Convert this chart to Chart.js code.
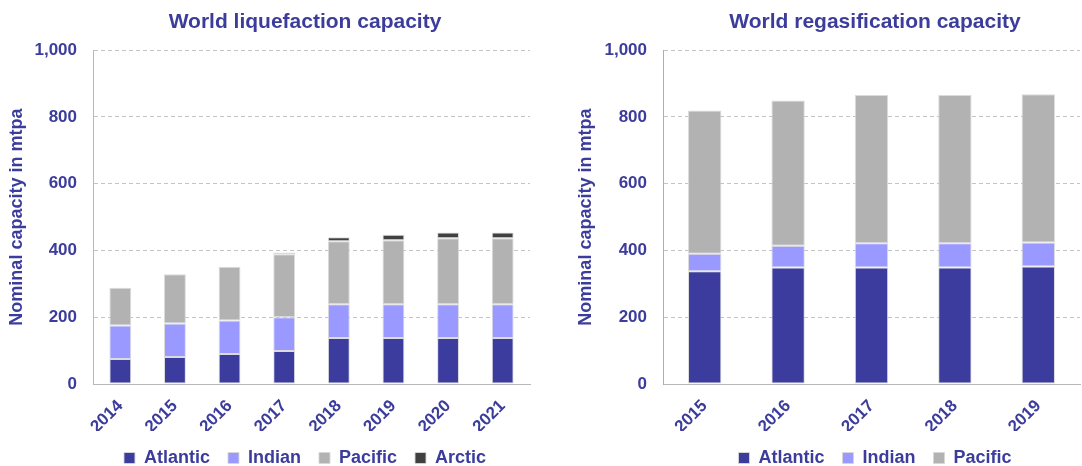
<!DOCTYPE html>
<html lang="en">
<head>
  <meta charset="UTF-8">
  <title>World LNG capacity</title>
  <style>
    body {
      margin: 0;
      width: 1082px;
      height: 466px;
      overflow: hidden;
      background: #ffffff;
      position: relative;
    }
    .box {
      position: absolute;
      top: 0;
      height: 477px;
    }
    #left { left: 0; width: 610px; }
    #right { left: 560px; width: 630px; }
  </style>
</head>
<body>
  <div class="box" id="left"><canvas id="liqChart"></canvas></div>
  <div class="box" id="right"><canvas id="regasChart"></canvas></div>

  <script src="https://cdn.jsdelivr.net/npm/chart.js"></script>
  <script>
    // liquefaction, mtpa
    const liqYears = ['2014', '2015', '2016', '2017', '2018', '2019', '2020', '2021'];
    const liqAtlantic = [75, 81, 90, 99, 138, 138, 138, 138];
    const liqIndian = [100, 100, 100, 101, 101, 101, 101, 101];
    const liqPacific = [113, 148, 161, 189, 189, 192, 198, 198];
    const liqArctic = [null, null, null, 5, 12, 16, 17, 17];

    // regasification, mtpa
    const regYears = ['2015', '2016', '2017', '2018', '2019'];
    const regAtlantic = [338, 349, 349, 349, 352];
    const regIndian = [52, 65, 73, 73, 72];
    const regPacific = [429, 435, 444, 444, 444];

    const yTicks = [0, 200, 400, 600, 800, 1000];

    const textColor = '#3c3c9c';
    const fontFam = '"Liberation Sans", Arial, sans-serif';
    const colors = {
      Atlantic: '#3c3c9e',
      Indian: '#9999ff',
      Pacific: '#b2b2b2',
      Arctic: '#404040'
    };

    Chart.defaults.font.family = fontFam;
    Chart.defaults.color = textColor;

    function mkSet(label, data) {
      return {
        label: label,
        data: data,
        backgroundColor: colors[label],
        borderColor: 'rgba(215,215,215,0.9)',
        borderWidth: 1,
        borderSkipped: false,
        categoryPercentage: 1,
        barPercentage: 0.4
      };
    }

    // titlePad = space left of the rotated axis title
    // yWidth = width of y axis block, padRight = blank area right of plot
    function mkChart(id, title, labels, sets, titlePad, yWidth, padRight, axisColor) {
      var ctx = document.getElementById(id).getContext('2d');
      return new Chart(ctx, {
        type: 'bar',
        data: { labels: labels, datasets: sets },
        options: {
          responsive: true,
          maintainAspectRatio: false,
          animation: false,
          layout: { padding: 0 },
          plugins: {
            title: {
              display: true,
              text: title,
              color: textColor,
              font: { size: 21, weight: 'bold' },
              padding: { top: 10, bottom: 15 }
            },
            legend: {
              position: 'bottom',
              labels: {
                color: textColor,
                font: { size: 18, weight: 'bold' },
                boxWidth: 11,
                boxHeight: 11,
                padding: 18
              }
            },
            tooltip: { enabled: false }
          },
          scales: {
            x: {
              stacked: true,
              grid: { display: false },
              border: { display: true, color: '#b8b8b8' },
              ticks: {
                color: textColor,
                font: { size: 17, weight: 'bold' },
                minRotation: 45,
                maxRotation: 45,
                padding: 4
              },
              afterFit: function(s) {
                s.paddingLeft = 0;
                s.paddingRight = 0;
                s.height = 47;
              }
            },
            y: {
              stacked: true,
              min: 0,
              max: 1000,
              afterBuildTicks: function(s) {
                s.ticks = yTicks.map(function(v) { return { value: v }; });
              },
              grid: { color: '#c4c4c4', drawTicks: false },
              border: { display: true, color: axisColor, dash: [4, 3] },
              ticks: {
                color: textColor,
                font: { size: 17, weight: 'bold' },
                padding: 16,
                callback: function(v) { return v.toLocaleString('en-US'); }
              },
              title: {
                display: true,
                text: 'Nominal capacity in mtpa',
                color: textColor,
                font: { size: 18, weight: 'bold' },
                padding: { top: titlePad, bottom: 7 }
              },
              afterFit: function(s) { s.width = yWidth; }
            },
            pad: {
              position: 'right',
              display: true,
              grid: { display: false },
              border: { display: false },
              ticks: { display: false },
              afterFit: function(s) { s.width = padRight; }
            }
          }
        }
      });
    }

    mkChart('liqChart', 'World liquefaction capacity', liqYears, [
      mkSet('Atlantic', liqAtlantic),
      mkSet('Indian', liqIndian),
      mkSet('Pacific', liqPacific),
      mkSet('Arctic', liqArctic)
    ], 6, 93, 80, '#b8b8b8');

    mkChart('regasChart', 'World regasification capacity', regYears, [
      mkSet('Atlantic', regAtlantic),
      mkSet('Indian', regIndian),
      mkSet('Pacific', regPacific)
    ], 15, 103, 110, '#a8a8d8');
  </script>
</body>
</html>
